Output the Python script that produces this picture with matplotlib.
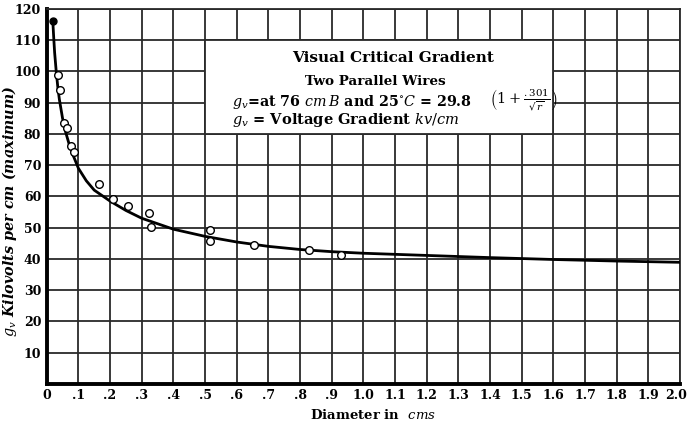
import matplotlib
matplotlib.use("Agg")
import matplotlib.pyplot as plt
from matplotlib.patches import Rectangle
from matplotlib.transforms import ScaledTranslation

# Curve
curve_x = [0.019, 0.022, 0.025, 0.03, 0.035, 0.04, 0.05, 0.06, 0.07, 0.08, 0.09, 0.1, 0.125,
           0.15, 0.2, 0.25, 0.3, 0.4, 0.5, 0.6, 0.7, 0.8, 0.9, 1.0, 1.2, 1.4, 1.6, 1.8, 2.0]
curve_y = [116.5, 111, 106, 100, 95, 91, 85, 80.5, 77, 74, 71.5, 69, 65,
           62, 58.5, 55.5, 53, 49.5, 47.2, 45.4, 44.0, 43.0, 42.3, 41.8, 41.1, 40.4, 39.8, 39.3, 38.9]

# Measured points (open circles)
pts_x = [0.036, 0.042, 0.053, 0.064, 0.078, 0.087, 0.166, 0.208, 0.258, 0.322, 0.328,
         0.516, 0.516, 0.656, 0.829, 0.929]
pts_y = [98.7, 94.0, 83.5, 81.8, 76.0, 74.2, 64.1, 59.1, 56.8, 54.6, 50.3,
         49.1, 45.8, 44.3, 42.7, 41.2]
# Top (filled) point
top_x = [0.02]
top_y = [116.3]

x_ticks = [i / 10 for i in range(0, 21)]
x_labels = ["0", ".1", ".2", ".3", ".4", ".5", ".6", ".7", ".8", ".9",
            "1.0", "1.1", "1.2", "1.3", "1.4", "1.5", "1.6", "1.7", "1.8", "1.9", "2.0"]
y_ticks = list(range(10, 121, 10))
y_labels = [str(v) for v in y_ticks]

plt.rcParams['mathtext.fontset'] = 'dejavuserif'
serif = ['DejaVu Serif']

fig = plt.figure(figsize=(6.87, 4.26), dpi=100)
ax = fig.add_axes([0.068, 0.099, 0.922, 0.880])

ax.set_xlim(0, 2.0)
ax.set_ylim(0, 120)
ax.set_xticks(x_ticks)
ax.set_xticklabels(x_labels, fontfamily=serif, fontweight='bold', fontsize=9)
ax.set_yticks(y_ticks)
ax.set_yticklabels(y_labels, fontfamily=serif, fontweight='bold', fontsize=9)
ax.tick_params(length=0, pad=4)
# nudge the last x label slightly left so it stays inside the figure
last = ax.get_xticklabels()[-1]
last.set_transform(last.get_transform() + ScaledTranslation(-3 / 72, 0, fig.dpi_scale_trans))

ax.set_axisbelow(True)
ax.grid(True, color='#2a2a2a', linewidth=1.3, zorder=0)

for s in ['left', 'bottom']:
    ax.spines[s].set_linewidth(2.8)
    ax.spines[s].set_color('black')
for s in ['top', 'right']:
    ax.spines[s].set_linewidth(1.3)
    ax.spines[s].set_color('#2a2a2a')

# White legend box covering the grid
ax.add_patch(Rectangle((0.5, 80), 1.1, 30, facecolor='white', edgecolor='#2a2a2a',
                       linewidth=1.3, zorder=1))

ax.plot(curve_x, curve_y, color='black', linewidth=2.0, zorder=3)
ax.plot(pts_x, pts_y, linestyle='none', marker='o', markersize=5.5,
        markerfacecolor='white', markeredgecolor='black', markeredgewidth=1.0, zorder=4)
ax.plot(top_x, top_y, linestyle='none', marker='o', markersize=5,
        markerfacecolor='black', markeredgecolor='black', zorder=4)

ax.text(1.093, 104.3, "Visual Critical Gradient", ha='center', va='center',
        fontfamily=serif, fontweight='bold', fontsize=11, zorder=5)
ax.text(1.037, 96.8, "Two Parallel Wires", ha='center', va='center',
        fontfamily=serif, fontweight='bold', fontsize=9.7, zorder=5)
ax.text(0.585, 90.3,
        r"$g_v$=at 76 $cm\,B$ and 25$^{\circ}$$C$ = 29.8",
        ha='left', va='center', fontfamily=serif, fontweight='bold', fontsize=10.3, zorder=5)
ax.text(1.40, 90.8, r"$\left(1+\frac{.301}{\sqrt{r}}\right)$",
        ha='left', va='center', fontfamily=serif, fontsize=10.5, zorder=5)
ax.text(0.585, 84.6, r"$g_v$ = Voltage Gradient $kv/cm$", ha='left', va='center',
        fontfamily=serif, fontweight='bold', fontsize=10.5, zorder=5)

ax.set_xlabel(r"Diameter in  $cms$", fontfamily=serif, fontweight='bold',
              fontsize=9.5)
ax.xaxis.set_label_coords(0.515, -0.064)
ax.set_ylabel(r"$g_v$ Kilovolts per cm (maximum)", fontfamily=serif, fontweight='bold',
              fontstyle='italic', fontsize=10.4)
ax.yaxis.set_label_coords(-0.044, 0.46)

fig.savefig("out.png", dpi=100)
